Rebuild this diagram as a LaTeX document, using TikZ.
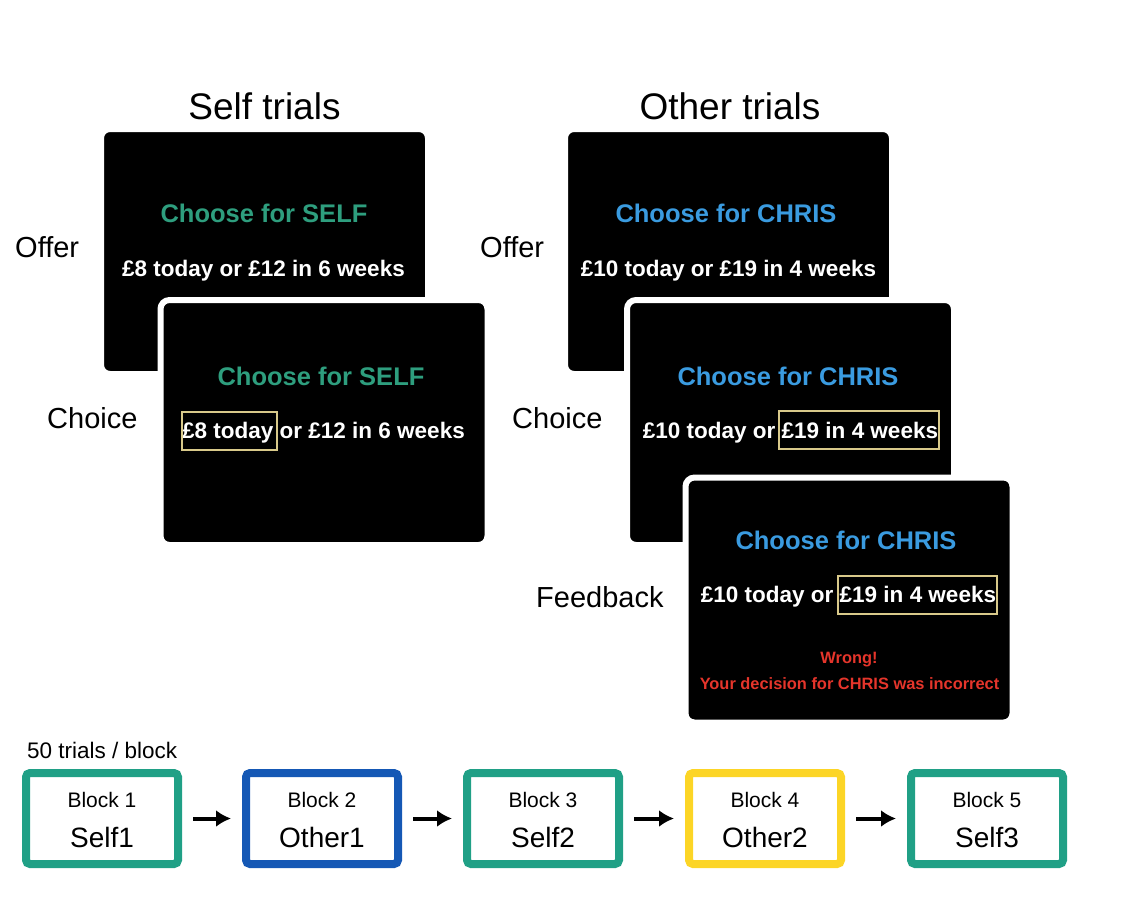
\documentclass[tikz,border=0pt]{standalone}
\usepackage{fontspec}
\setmainfont{Liberation Sans}
\usepackage{tikz}
\usetikzlibrary{positioning}
\usetikzlibrary{arrows.meta}

\definecolor{selfgreen}{HTML}{2E9E7E}
\definecolor{otherblue}{HTML}{3A9BE0}
\definecolor{wrongred}{HTML}{E5352B}
\definecolor{pickyellow}{HTML}{D8C98A}
\definecolor{blockteal}{HTML}{20A086}
\definecolor{blockblue}{HTML}{1558B5}
\definecolor{blockyellow}{HTML}{FCD526}

\tikzset{
  head/.style={font=\fontsize{37}{37}\selectfont, anchor=base},
  phase/.style={font=\fontsize{29}{29}\selectfont, anchor=base west, inner sep=0pt},
  screen/.style={fill=black, draw=white, line width=6pt, rounded corners=9pt,
    minimum width=327pt, minimum height=245pt, inner sep=0pt},
  scrtitle/.style={font=\fontsize{25.5}{25.5}\selectfont\bfseries, anchor=base},
  amount/.style={font=\fontsize{22.5}{22.5}\selectfont\bfseries, text=white, anchor=base},
  warn/.style={font=\fontsize{16.4}{16.4}\selectfont\bfseries, text=wrongred, anchor=base},
  pick/.style={draw=pickyellow, line width=2pt, inner sep=0pt, minimum height=38pt},
  blockbox/.style={line width=8pt, rounded corners=4pt, minimum width=152pt,
    minimum height=91pt, inner sep=0pt},
  blocknum/.style={font=\fontsize{21}{21}\selectfont, anchor=base},
  blockname/.style={font=\fontsize{28}{28}\selectfont, anchor=base},
  next/.style={-{Latex[length=15pt,width=17pt]}, line width=4pt, shorten <=11pt, shorten >=11pt}
}

\begin{document}
\begin{tikzpicture}[x=1pt,y=-1pt]
       \useasboundingbox (0,0) rectangle (1146,898);
       % column heads
       \node[head] (selfhead) at (264.5,119) {Self trials};
       \node[head] (otherhead) at (730,119) {Other trials};
       % self trials
       \node[screen] (selfoffer) at (264.5,251.5) {};
       \node[scrtitle, text=selfgreen] (sotitle) at (264,222) {Choose for SELF};
       \node[amount] (soamount) at (263.5,276) {£8 today or £12 in 6 weeks};
       \node[screen] (selfchoice) at (324,422.5) {};
       \node[scrtitle, text=selfgreen] (sctitle) at (321,385) {Choose for SELF};
       \node[amount] (scamount) at (323.5,438) {£8 today or £12 in 6 weeks};
       \node[pick, minimum width=95pt] (scpick) at (229.5,431) {};
       \node[phase] (selfofferlbl) at (15,257) {Offer};
       \node[phase] (selfchoicelbl) at (47,428) {Choice};
       % other trials
       \node[screen] (otheroffer) at (728.5,251.5) {};
       \node[scrtitle, text=otherblue] (ootitle) at (726,222) {Choose for CHRIS};
       \node[amount] (ooamount) at (728.5,276) {£10 today or £19 in 4 weeks};
       \node[screen] (otherchoice) at (790.5,422.5) {};
       \node[scrtitle, text=otherblue] (octitle) at (788,385) {Choose for CHRIS};
       \node[amount] (ocamount) at (790.5,438) {£10 today or £19 in 4 weeks};
       \node[pick, minimum width=160pt] (ocpick) at (859,430) {};
       \node[screen] (feedback) at (849,600) {};
       \node[scrtitle, text=otherblue] (fbtitle) at (846,549) {Choose for CHRIS};
       \node[amount] (fbamount) at (848.5,602) {£10 today or £19 in 4 weeks};
       \node[pick, minimum width=159pt] (fbpick) at (917.5,595) {};
       \node[warn] (fbwrong) at (849,663) {Wrong!};
       \node[warn] (fbnote) at (849.5,689) {Your decision for CHRIS was incorrect};
       \node[phase] (otherofferlbl) at (480,257) {Offer};
       \node[phase] (otherchoicelbl) at (512,428) {Choice};
       \node[phase] (feedbacklbl) at (536,607) {Feedback};
       % block order
       \node[font=\fontsize{22.5}{22.5}\selectfont, anchor=base west, inner sep=0pt] (trialsnote) at (27,758) {50 trials / block};
       \node[blockbox, draw=blockteal] (b1) at (102,818.5) {};
       \node[blockbox, draw=blockblue] (b2) at (322,818.5) {};
       \node[blockbox, draw=blockteal] (b3) at (543,818.5) {};
       \node[blockbox, draw=blockyellow] (b4) at (765,818.5) {};
       \node[blockbox, draw=blockteal] (b5) at (987,818.5) {};
       \node[blocknum] (b1num) at (102,807) {Block 1};
       \node[blockname] (b1name) at (102,847) {Self1};
       \node[blocknum] (b2num) at (322,807) {Block 2};
       \node[blockname] (b2name) at (322,847) {Other1};
       \node[blocknum] (b3num) at (543,807) {Block 3};
       \node[blockname] (b3name) at (543,847) {Self2};
       \node[blocknum] (b4num) at (765,807) {Block 4};
       \node[blockname] (b4name) at (765,847) {Other2};
       \node[blocknum] (b5num) at (987,807) {Block 5};
       \node[blockname] (b5name) at (987,847) {Self3};
       \draw[next] (b1) -- (b2);
       \draw[next] (b2) -- (b3);
       \draw[next] (b3) -- (b4);
       \draw[next] (b4) -- (b5);
\end{tikzpicture}
\end{document}
